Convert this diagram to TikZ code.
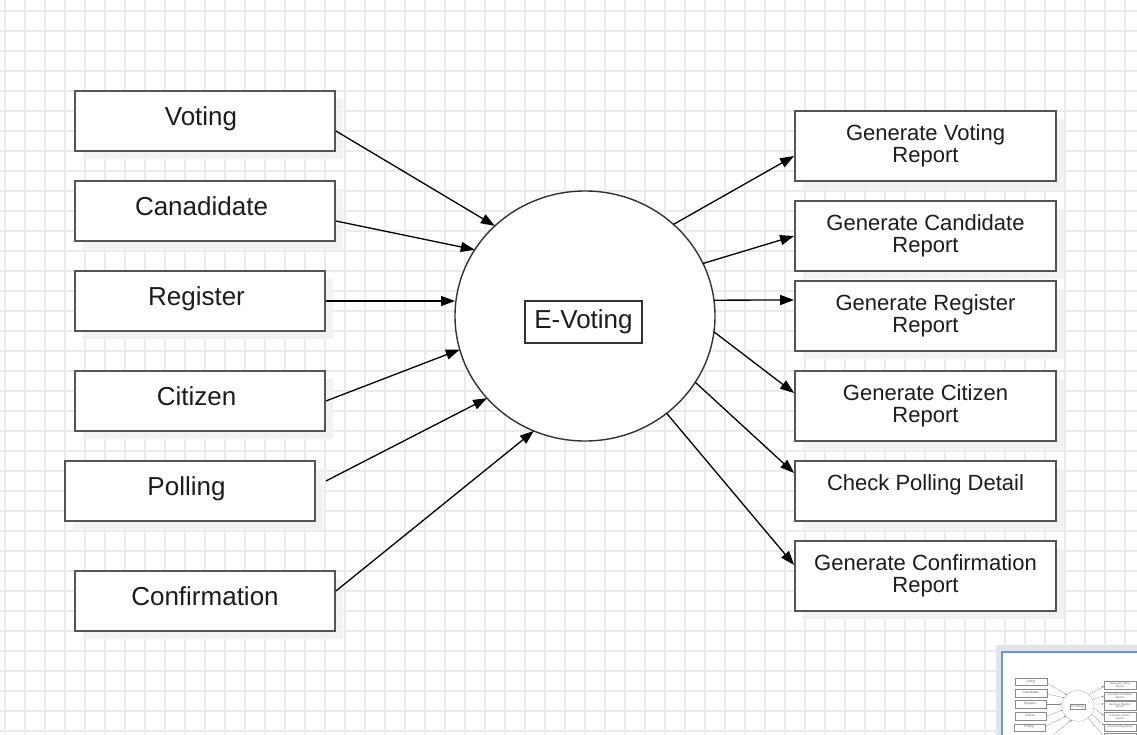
\documentclass[tikz,border=0pt]{standalone}
\usepackage{fontspec}
\setmainfont{Liberation Sans}
\usetikzlibrary{arrows.meta,shapes.geometric,shadows}

\definecolor{gridgray}{RGB}{235,235,235}
\definecolor{inkgray}{RGB}{28,28,28}
\definecolor{edgegray}{RGB}{85,85,85}
\definecolor{miniblue}{RGB}{100,150,228}

\tikzset{
  grid line/.style={draw=gridgray, line width=2pt},
  boxshadow/.style={drop shadow={shadow xshift=8pt, shadow yshift=-8pt, fill=black!5, opacity=1}},
  box/.style={draw=edgegray, line width=1.8pt, fill=white, inner sep=0pt, text=inkgray, boxshadow},
  in box/.style={box, minimum width=260pt, minimum height=60pt, font=\fontsize{26}{30}\selectfont, text height=20pt, text depth=12pt},
  out box/.style={box, minimum width=261pt, minimum height=70pt, font=\fontsize{22}{22}\selectfont, align=center},
  process/.style={ellipse, draw=black!80, line width=1.4pt, fill=white, minimum width=260pt, minimum height=250pt, inner sep=0pt, outer sep=0pt},
  label box/.style={draw=black!80, line width=1.2pt, fill=white, inner sep=0pt, minimum width=117pt, minimum height=42pt, text=inkgray, font=\fontsize{26}{30}\selectfont, text height=20pt, text depth=8pt},
  flow/.style={-{Triangle[length=14pt,width=10pt]}, line width=1.3pt, black},
}

\newcommand\evdiagram{%
\node[in box] (voting) at (205,121) {Voting\hspace*{8pt}};
\node[in box] (canadidate) at (205,211) {Canadidate\hspace*{7pt}};
\node[in box, minimum width=250pt] (register) at (200,301) {Register\hspace*{7pt}};
\node[in box, minimum width=250pt] (citizen) at (200,401) {Citizen\hspace*{7pt}};
\node[in box, minimum width=250pt] (polling) at (190,491) {Polling\hspace*{7pt}};
\node[in box] (confirmation) at (205,601) {Confirmation};
\node[out box] (genvoting) at (925.5,146) {Generate Voting\\Report};
\node[out box] (gencandidate) at (925.5,236) {Generate Candidate\\Report};
\node[out box] (genregister) at (925.5,316) {Generate Register\\Report};
\node[out box] (gencitizen) at (925.5,406) {Generate Citizen\\Report};
\node[out box, minimum height=60pt, text height=16pt, text depth=18pt] (checkpolling) at (925.5,491) {Check Polling Detail};
\node[out box] (genconfirmation) at (925.5,576) {Generate Confirmation\\Report};
\node[process] (ev) at (585,316) {};
\node[label box] (evlabel) at (583.5,322) {E-Voting};
% inputs
\draw[flow] ([yshift=-10pt]voting.east) -- (ev.135.6);
\draw[flow] ([yshift=-10pt]canadidate.east) -- (ev.149.6);
\draw[flow] (register.east) -- (register.east -| ev.west);
\draw[flow] (citizen.east) -- (ev.195.2);
\draw[flow] ([xshift=10pt,yshift=10pt]polling.east) -- (ev.220.6);
\draw[flow] ([yshift=10pt]confirmation.east) -- (ev.246.7);
% outputs
\draw[flow] (ev.46.5) -- ([yshift=-10pt]genvoting.west);
\draw[flow] (ev.24.4) -- (gencandidate.west);
\draw[flow] (ev.7) -- ([yshift=16pt]genregister.west);
\draw[flow] (ev.353.5) -- ([yshift=13pt]gencitizen.west);
\draw[flow] (ev.329.6) -- ([yshift=18pt]checkpolling.west);
\draw[flow] (ev.310.5) -- ([yshift=11pt]genconfirmation.west);
}

\begin{document}
\begin{tikzpicture}[x=1pt, y=-1pt]
\useasboundingbox (0,0) rectangle (1137,734);
\clip (0,0) rectangle (1137,734);
\fill[white] (0,0) rectangle (1137,734);
\foreach \gx in {5,25,...,1145} \draw[grid line] (\gx,0) -- (\gx,734);
\foreach \gy in {11,31,...,731} \draw[grid line] (0,\gy) -- (1137,\gy);

\evdiagram

% overview panel
\fill[black!10] (996,645) rectangle (1140,740);
\filldraw[fill=white, draw=miniblue, line width=1.5pt] (1002,652) rectangle (1145,745);
\begin{scope}
\clip (1003,653) rectangle (1137,734);
\begin{scope}[shift={(1006,667)}, scale=0.123, transform shape, name prefix=mini-,
  boxshadow/.style={},
  box/.append style={draw=black!45, line width=0.3pt, text=black!60},
  process/.append style={draw=black!35, line width=0.25pt},
  label box/.append style={draw=black!45, line width=0.25pt, text=black!60},
  flow/.style={-{Triangle[length=1.8pt,width=1.3pt]}, line width=0.2pt, black!50}]
\evdiagram
\end{scope}
\end{scope}
\end{tikzpicture}
\end{document}
